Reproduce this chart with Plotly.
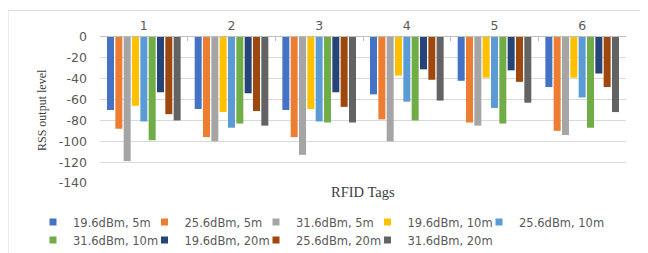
import plotly.graph_objects as go

tags = ["1", "2", "3", "4", "5", "6"]
series_names = ["19.6dBm, 5m", "25.6dBm, 5m", "31.6dBm, 5m",
                "19.6dBm, 10m", "25.6dBm, 10m", "31.6dBm, 10m",
                "19.6dBm, 20m", "25.6dBm, 20m", "31.6dBm, 20m"]
s19_5 = [-70, -69, -70, -55, -42, -48]
s25_5 = [-88, -96, -96, -79, -82, -90]
s31_5 = [-119, -100, -113, -100, -85, -94]
s19_10 = [-66, -72, -69, -37, -39, -39]
s25_10 = [-81, -87, -81, -62, -68, -58]
s31_10 = [-99, -83, -82, -80, -83, -87]
s19_20 = [-53, -54, -53, -31, -32, -35]
s25_20 = [-74, -71, -67, -41, -43, -48]
s31_20 = [-80, -85, -82, -61, -63, -72]
y_ticks = [0, -20, -40, -60, -80, -100, -120, -140]

series_values = [s19_5, s25_5, s31_5, s19_10, s25_10, s31_10, s19_20, s25_20, s31_20]
colors = ["#4472C4", "#ED7D31", "#A5A5A5", "#FFC000", "#5B9BD5",
          "#70AD47", "#264478", "#9E480E", "#636363"]
# legend layout: first row holds 5 entries, second row 4 (as in the original)
legend_rows = ["legend"] * 5 + ["legend2"] * 4

# The page body has an 8px margin, so the figure is drawn 8px in from the corner.
OFF = 8
W, H = 640, 245
ML, MR, MT, MB = 92, 22, 28.7, 69.7
PW, PH = W - ML - MR, H - MT - MB

def px_x(p):
    return (p - OFF - ML) / PW

def px_y(p):
    return (H - MB - (p - OFF)) / PH

fig = go.Figure()
for name, vals, col in zip(series_names, series_values, colors):
    fig.add_trace(go.Bar(x=tags, y=vals, name=name, marker_color=col,
                         marker_line_width=0, showlegend=False))
for i, (name, col, lg) in enumerate(zip(series_names, colors, legend_rows)):
    last_in_row = (i == 4) or (i == 8)
    fig.add_trace(go.Scatter(x=[None], y=[None], mode="markers", name=name,
                             marker=dict(symbol="square", size=7, color=col),
                             showlegend=True, legend=lg,
                             legendwidth=100 if last_in_row else 66.5))

tick_font = dict(family="DejaVu Sans", size=12.5, color="#595959")
legend_font = dict(family="DejaVu Sans", size=11.5, color="#595959")

fig.update_layout(
    width=W, height=H,
    margin=dict(l=ML, r=MR, t=MT, b=MB, autoexpand=False),
    paper_bgcolor="white", plot_bgcolor="white",
    barmode="group", bargap=0.145, bargroupgap=0.16,
    xaxis=dict(type="category", side="top", showgrid=False,
               showline=True, linecolor="#BFBFBF", linewidth=1,
               ticks="inside", ticklen=4, tickcolor="#BFBFBF",
               tickson="boundaries", tickfont=tick_font,
               ticklabelstandoff=1, fixedrange=True),
    yaxis=dict(range=[-140, 0], tickvals=y_ticks,
               ticktext=[str(v) for v in y_ticks],
               showgrid=True, gridcolor="#D9D9D9", gridwidth=1,
               zeroline=False, showline=False, tickfont=tick_font,
               ticks="", ticklabelstandoff=12, fixedrange=True),
    legend=dict(orientation="h", x=px_x(33), xanchor="left",
                y=px_y(208), yanchor="top",
                font=legend_font,
                bgcolor="rgba(0,0,0,0)", borderwidth=0, itemclick=False),
    legend2=dict(orientation="h", x=px_x(33), xanchor="left",
                 y=px_y(226), yanchor="top",
                 font=legend_font,
                 bgcolor="rgba(0,0,0,0)", borderwidth=0, itemclick=False),
    annotations=[
        dict(text="RFID Tags", x=0.5, y=px_y(192), xref="paper", yref="paper",
             showarrow=False, xanchor="center", yanchor="middle",
             font=dict(family="Liberation Serif", size=14.5, color="#404040")),
        dict(text="RSS output level", x=px_x(42), y=0.5, xref="paper", yref="paper",
             showarrow=False, textangle=-90, xanchor="center", yanchor="middle",
             font=dict(family="Liberation Serif", size=12, color="#404040")),
    ],
    shapes=[dict(type="rect", xref="paper", yref="paper",
                 x0=px_x(8), x1=px_x(645), y0=px_y(262), y1=px_y(10),
                 line=dict(color="#D9D9D9", width=1), fillcolor="rgba(0,0,0,0)",
                 layer="below")],
)

fig.write_html("out.html")
